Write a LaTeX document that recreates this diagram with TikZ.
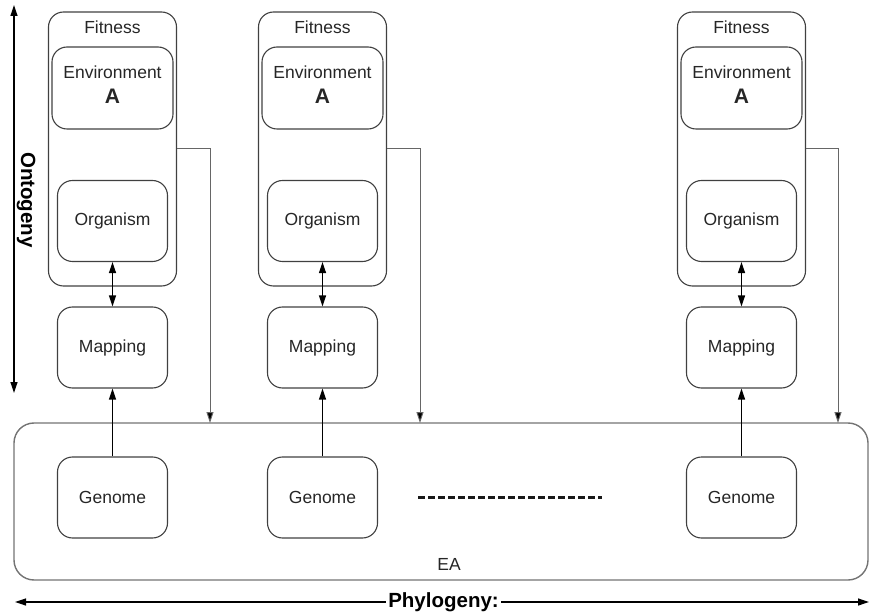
\documentclass[tikz,border=0pt]{standalone}
\usepackage{fontspec}
\setmainfont{Liberation Sans}
\usetikzlibrary{arrows.meta}
\begin{document}
\begin{tikzpicture}[x=1pt,y=-1pt,
  every node/.style={text=black!85, font=\fontsize{17.5}{20}\selectfont},
  frame/.style={draw=black!75, line width=1.1pt, rounded corners=15pt},
  inbox/.style={frame, inner sep=0pt, minimum width=110pt, minimum height=81pt, align=center},
  envbox/.style={frame, inner sep=0pt, minimum width=121pt, minimum height=82pt},
  fitbox/.style={frame, inner sep=0pt, minimum width=128pt, minimum height=274pt},
  linkarrow/.style={line width=1.3pt, black, -{Triangle[length=11pt,width=7pt]}},
  botharrow/.style={line width=1.3pt, black, {Triangle[length=11pt,width=7pt]}-{Triangle[length=11pt,width=7pt]}},
  feedback/.style={draw=black!60, line width=1pt, -{Triangle[length=11pt,width=7pt,fill=black]}},
  biglabel/.style={font=\fontsize{20.5}{24}\selectfont\bfseries, text=black},
]
\useasboundingbox (0,0) rectangle (870,612);

% evolutionary algorithm container
\node[draw=black!55, line width=1.4pt, rounded corners=20pt, minimum width=854pt,
      minimum height=157pt, inner sep=0pt] (ea) at (441,501.5) {};
\node (ealabel) at (449,564) {EA};

% one column per individual: fitness / environment / organism / mapping / genome
\foreach \i/\cx/\fb in {1/112.5/210, 2/322.5/420, 3/741.5/838} {
  \node[fitbox] (fit\i) at (\cx,149) {};
  \node (fitlabel\i) at (\cx,27) {Fitness};
  \node[envbox] (env\i) at (\cx,88) {};
  \node[align=center] (envtext\i) at (\cx,85) {Environment\\[5pt]{\fontsize{21}{24}\selectfont\bfseries A}};
  \node[inbox] (org\i) at (\cx,221) {Organism};
  \node[inbox] (map\i) at (\cx,347.5) {Mapping};
  \node[inbox] (gen\i) at (\cx,497.5) {Genome};
  \draw[botharrow] (org\i.south) -- (map\i.north);
  \draw[linkarrow] (gen\i.north) -- (map\i.south);
  \coordinate (fbend\i) at (\fb,423);
  \draw[feedback] (fit\i.east) -| (fbend\i);
}

% ellipsis between the second and last individual
\coordinate (dotsL) at (418,497);
\coordinate (dotsR) at (602,497);
\draw[line width=3pt, black!90, dash pattern=on 7pt off 3pt] (dotsL) -- (dotsR);

% ontogeny axis
\coordinate (ontTop) at (14,5);
\coordinate (ontBot) at (14,393);
\draw[botharrow, line width=1.2pt] (ontTop) -- (ontBot);
\node[biglabel, rotate=-90] (ontlabel) at (26,200) {Ontogeny};

% phylogeny axis
\coordinate (phyL) at (15,602);
\coordinate (phyR) at (869,602);
\draw[botharrow, line width=1.2pt] (phyL) -- (phyR);
\node[biglabel, fill=white, inner xsep=2pt, inner ysep=1pt] (phylabel) at (443.5,602) {Phylogeny:};
\end{tikzpicture}
\end{document}
